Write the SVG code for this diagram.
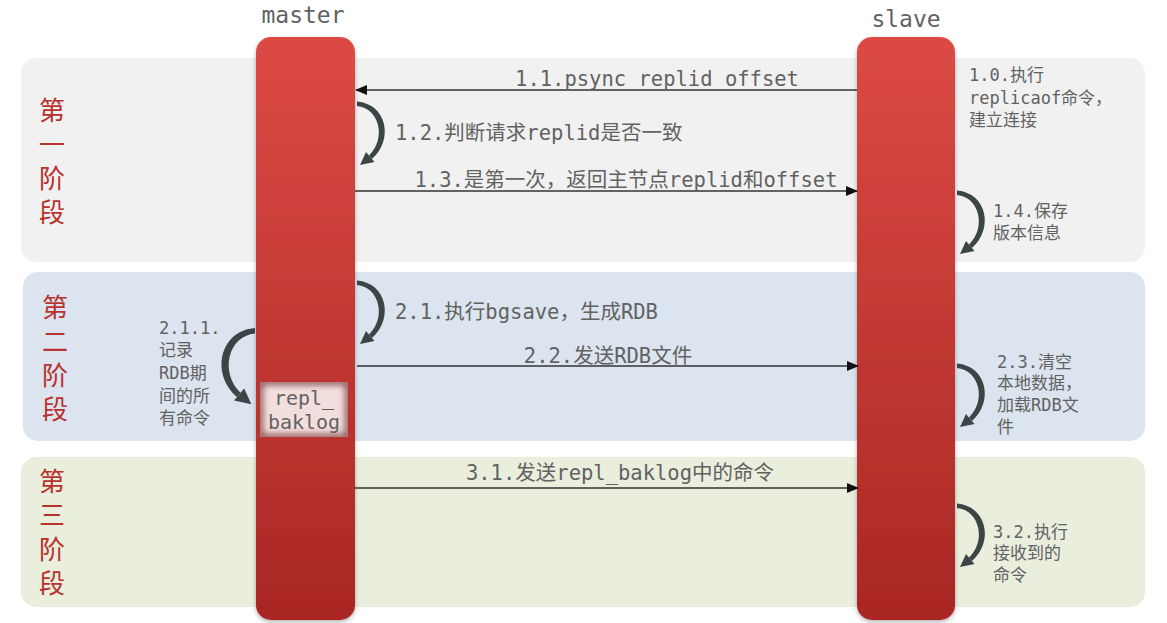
<svg xmlns="http://www.w3.org/2000/svg" width="1167" height="623" viewBox="0 0 1167 623">
<defs>
<linearGradient id="life" x1="0" y1="0" x2="0" y2="1">
<stop offset="0" stop-color="#dc4a45"/>
<stop offset="1" stop-color="#a92723"/>
</linearGradient>
<filter id="shadow" x="-20%" y="-5%" width="140%" height="110%">
<feDropShadow dx="0" dy="2" stdDeviation="2" flood-color="#000" flood-opacity="0.3"/>
</filter>
<filter id="inner" x="-10%" y="-10%" width="120%" height="120%">
<feGaussianBlur stdDeviation="3"/>
</filter>
<clipPath id="boxclip"><rect x="260" y="382" width="88" height="55"/></clipPath>
<marker id="ah" markerWidth="12" markerHeight="10" refX="11" refY="5" orient="auto" markerUnits="userSpaceOnUse">
<path d="M0,0 L12,5 L0,10 Z" fill="#111"/>
</marker>
<g id="loop">
<path d="M0,-2.5 C30,0 37,36 15,55 L12,51.5 C30,34 22,4 0,2 Z" fill="#3b4545"/>
<path d="M3,61 L17.5,58 L9,48 Z" fill="#3b4545"/>
</g>
</defs>
<style>
.mono{font-family:"DejaVu Sans Mono","Noto Sans CJK SC",monospace;fill:#626262}
.lbl{font-size:20.5px}
.sm{font-size:17px}
.phase{font-family:"Noto Sans CJK SC","Noto Sans",sans-serif;font-size:26px;fill:#b8322e;text-anchor:middle}
.conn{stroke:#333;stroke-width:1.3;fill:none}
</style>

<g id="panel1"><rect x="21" y="58" width="1124" height="204" rx="15" fill="#f1f1f1"/>
<text class="phase" x="52" y="120">第</text><text class="phase" x="52" y="154">一</text><text class="phase" x="52" y="188">阶</text><text class="phase" x="52" y="222">段</text></g>
<g id="panel2"><rect x="23" y="272" width="1122" height="169" rx="15" fill="#dbe4ef"/>
<text class="phase" x="55" y="317">第</text><text class="phase" x="55" y="351">二</text><text class="phase" x="55" y="385">阶</text><text class="phase" x="55" y="419">段</text></g>
<g id="panel3"><rect x="21" y="457" width="1124" height="150" rx="15" fill="#e9eedd"/>
<text class="phase" x="52" y="491">第</text><text class="phase" x="52" y="525">三</text><text class="phase" x="52" y="559">阶</text><text class="phase" x="52" y="593">段</text></g>

<g id="master">
<text class="mono" x="303" y="23" font-size="23" text-anchor="middle">master</text>
<rect x="256" y="37" width="99" height="583" rx="15" fill="url(#life)" filter="url(#shadow)"/>
</g>
<g id="slave">
<text class="mono" x="906" y="27" font-size="23" text-anchor="middle">slave</text>
<rect x="857" y="37" width="98" height="583" rx="15" fill="url(#life)" filter="url(#shadow)"/>
</g>

<g id="replbaklog">
<rect x="260" y="382" width="88" height="55" fill="#f3dede"/>
<g clip-path="url(#boxclip)"><rect x="260" y="382" width="88" height="55" fill="none" stroke="#6e2f2d" stroke-width="6" filter="url(#inner)" opacity="0.8"/></g>
<text class="mono" x="304" y="405" font-size="20" text-anchor="middle" fill="#4a4a4a">repl_</text>
<text class="mono" x="304" y="429" font-size="20" text-anchor="middle" fill="#4a4a4a">baklog</text>
</g>

<g id="connectors">
<line class="conn" x1="857" y1="90" x2="356" y2="90" marker-end="url(#ah)"/>
<line class="conn" x1="355" y1="191" x2="857" y2="191" marker-end="url(#ah)"/>
<line class="conn" x1="357" y1="366" x2="858" y2="366" marker-end="url(#ah)"/>
<line class="conn" x1="355" y1="488" x2="858" y2="488" marker-end="url(#ah)"/>
<use href="#loop" transform="translate(357,104)"/>
<use href="#loop" transform="translate(957,193)"/>
<use href="#loop" transform="translate(357,283)"/>
<use href="#loop" transform="translate(957,366)"/>
<use href="#loop" transform="translate(957,506)"/>
<use href="#loop" transform="translate(255,331) scale(-1.2,1.2)"/>
</g>

<g id="labels">
<text class="mono lbl" x="657" y="86" text-anchor="middle">1.1.psync replid offset</text>
<text class="mono lbl" x="395" y="140">1.2.判断请求replid是否一致</text>
<text class="mono lbl" x="626" y="187" text-anchor="middle">1.3.是第一次，返回主节点replid和offset</text>
<text class="mono lbl" x="395" y="319">2.1.执行bgsave，生成RDB</text>
<text class="mono lbl" x="608" y="363" text-anchor="middle">2.2.发送RDB文件</text>
<text class="mono lbl" x="620" y="480" text-anchor="middle">3.1.发送repl_baklog中的命令</text>
<text class="mono sm" x="969" y="81">1.0.执行</text>
<text class="mono sm" x="969" y="104">replicaof命令，</text>
<text class="mono sm" x="969" y="126">建立连接</text>
<text class="mono sm" x="993" y="217">1.4.保存</text>
<text class="mono sm" x="993" y="239">版本信息</text>
<text class="mono sm" x="997" y="368">2.3.清空</text>
<text class="mono sm" x="997" y="389">本地数据，</text>
<text class="mono sm" x="997" y="411">加载RDB文</text>
<text class="mono sm" x="997" y="433">件</text>
<text class="mono sm" x="159" y="334">2.1.1.</text>
<text class="mono sm" x="159" y="356">记录</text>
<text class="mono sm" x="159" y="379">RDB期</text>
<text class="mono sm" x="159" y="402">间的所</text>
<text class="mono sm" x="159" y="424">有命令</text>
<text class="mono sm" x="993" y="538">3.2.执行</text>
<text class="mono sm" x="993" y="559">接收到的</text>
<text class="mono sm" x="993" y="581">命令</text>
</g>
</svg>
